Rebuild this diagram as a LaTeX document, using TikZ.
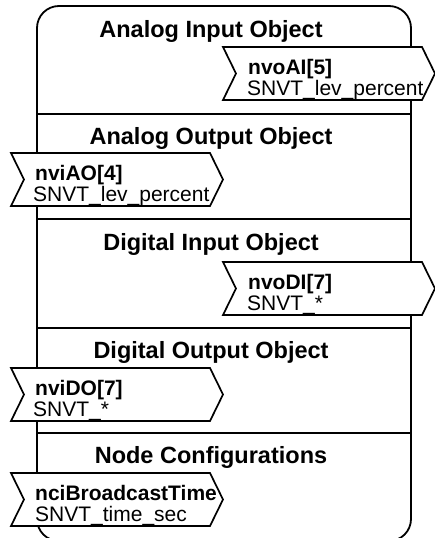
\documentclass[tikz,border=0pt]{standalone}
\usepackage{fontspec}
\setmainfont{Liberation Sans}
\tikzset{
  frame/.style={line width=1.8pt},
  chev/.style={draw, fill=white, line width=1.7pt, line join=miter},
  title/.style={font=\fontsize{23.5}{28}\selectfont\bfseries, anchor=base, inner sep=0pt},
  sig/.style={font=\fontsize{21}{24}\selectfont\bfseries, anchor=base west, inner sep=0pt},
  typ/.style={font=\fontsize{21}{24}\selectfont, anchor=base west, inner sep=0pt},
}
\newcommand\chevshape[2]{%
  \draw[chev] (#1,#2) -- ++(199,0) -- ++(13,26.5) -- ++(-13,26.5) -- ++(-199,0) -- ++(13,-26.5) -- cycle;}
\begin{document}
\begin{tikzpicture}[x=1pt,y=-1pt]
  \useasboundingbox (0,0) rectangle (435,538);
  % outer frame
  \draw[frame, rounded corners=22pt] (37,6) rectangle (411,541);
  % dividers
  \coordinate (d1l) at (37,114); \coordinate (d1r) at (411,114);
  \coordinate (d2l) at (37,219); \coordinate (d2r) at (411,219);
  \coordinate (d3l) at (37,328); \coordinate (d3r) at (411,328);
  \coordinate (d4l) at (37,433); \coordinate (d4r) at (411,433);
  \draw[frame] (d1l) -- (d1r);
  \draw[frame] (d2l) -- (d2r);
  \draw[frame] (d3l) -- (d3r);
  \draw[frame] (d4l) -- (d4r);
  % titles
  \node[title] (t1) at (211,37) {Analog Input Object};
  \node[title] (t2) at (211,144) {Analog Output Object};
  \node[title] (t3) at (211,250) {Digital Input Object};
  \node[title] (t4) at (211,358) {Digital Output Object};
  \node[title] (t5) at (211,463) {Node Configurations};
  % chevrons
  \chevshape{223}{47}
  \node[sig] (s1) at (248,74) {nvoAI[5]};
  \node[typ] (y1) at (247,95) {SNVT\_lev\_percent};
  \chevshape{11}{153}
  \node[sig] (s2) at (35,180) {nviAO[4]};
  \node[typ] (y2) at (33,201) {SNVT\_lev\_percent};
  \chevshape{223}{262}
  \node[sig] (s3) at (248,289) {nvoDI[7]};
  \node[typ] (y3) at (247,310) {SNVT\_*};
  \chevshape{11}{368}
  \node[sig] (s4) at (35,395) {nviDO[7]};
  \node[typ] (y4) at (33,416) {SNVT\_*};
  \chevshape{11}{473}
  \node[sig] (s5) at (35,500) {nciBroadcastTime};
  \node[typ] (y5) at (35,521) {SNVT\_time\_sec};
\end{tikzpicture}
\end{document}
